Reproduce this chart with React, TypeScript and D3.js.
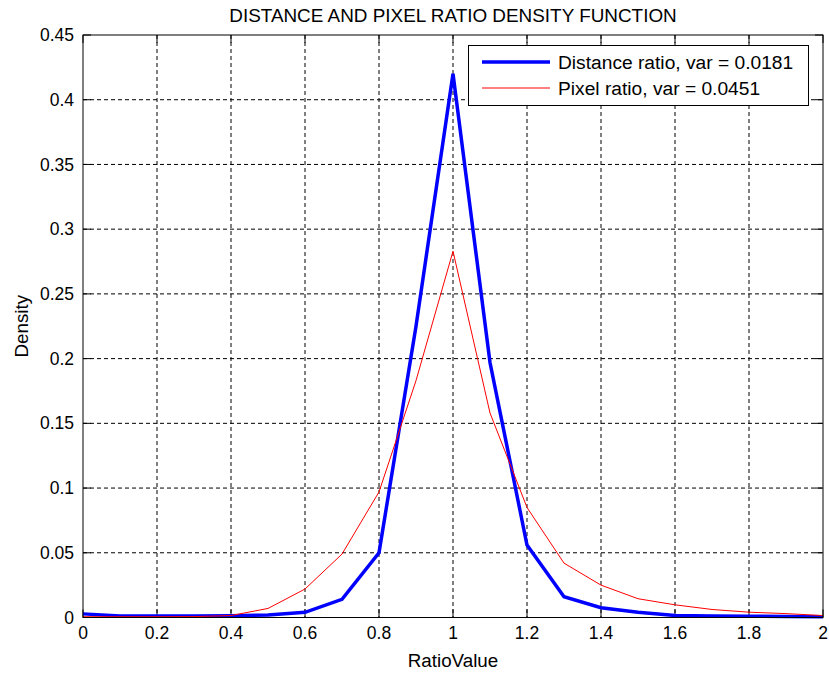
import React from "react";
import * as d3 from "d3";

const xValues = [0, 0.1, 0.2, 0.3, 0.4, 0.5, 0.6, 0.7, 0.8, 0.9, 1.0, 1.1, 1.2, 1.3, 1.4, 1.5, 1.6, 1.7, 1.8, 1.9, 2.0];
const distanceRatio = [0.0028, 0.0012, 0.0012, 0.0012, 0.0013, 0.002, 0.004, 0.014, 0.05, 0.225, 0.42, 0.197, 0.056, 0.016, 0.0075, 0.004, 0.0016, 0.0012, 0.001, 0.0008, 0.0006];
const pixelRatio = [0.0006, 0.0006, 0.0006, 0.0007, 0.0015, 0.007, 0.022, 0.049, 0.097, 0.183, 0.283, 0.158, 0.085, 0.042, 0.025, 0.0145, 0.0098, 0.0062, 0.0041, 0.003, 0.0015];
const xTicks = [0, 0.2, 0.4, 0.6, 0.8, 1, 1.2, 1.4, 1.6, 1.8, 2];
const yTicks = [0, 0.05, 0.1, 0.15, 0.2, 0.25, 0.3, 0.35, 0.4, 0.45];
const seriesNames = ["Distance ratio, var = 0.0181", "Pixel ratio, var = 0.0451"];
const title = "DISTANCE AND PIXEL RATIO DENSITY FUNCTION";
const xLabel = "RatioValue";
const yLabel = "Density";

const W = 829, H = 674;
const left = 83, right = 823, top = 35, bottom = 617.5;
const font = "'Liberation Sans', Arial, sans-serif";

export default function App() {
  const x = d3.scaleLinear().domain([0, 2]).range([left, right]);
  const y = d3.scaleLinear().domain([0, 0.45]).range([bottom, top]);
  const line = (vals: number[]) =>
    d3.line<number>().x((_, i) => x(xValues[i])).y((d) => y(d))(vals) || "";
  const tl = 8;
  return (
    <svg width={W} height={H} style={{ position: "absolute", left: 0, top: 0, background: "#fff" }}>
      <rect x={0} y={0} width={W} height={H} fill="#fff" />
      {/* grid */}
      {xTicks.slice(1, -1).map((t) => (
        <line key={"gx" + t} x1={x(t)} x2={x(t)} y1={top} y2={bottom} stroke="#000" strokeWidth={1} strokeDasharray="4,3" />
      ))}
      {yTicks.slice(1, -1).map((t) => (
        <line key={"gy" + t} x1={left} x2={right} y1={y(t)} y2={y(t)} stroke="#000" strokeWidth={1} strokeDasharray="4,3" />
      ))}
      {/* ticks */}
      {xTicks.map((t) => (
        <g key={"tx" + t}>
          <line x1={x(t)} x2={x(t)} y1={bottom} y2={bottom - tl} stroke="#000" />
          <line x1={x(t)} x2={x(t)} y1={top} y2={top + tl} stroke="#000" />
          <text x={x(t)} y={639} textAnchor="middle" fontFamily={font} fontSize={17.5} fill="#000">
            {d3.format("~g")(t)}
          </text>
        </g>
      ))}
      {yTicks.map((t) => (
        <g key={"ty" + t}>
          <line x1={left} x2={left + tl} y1={y(t)} y2={y(t)} stroke="#000" />
          <line x1={right} x2={right - tl} y1={y(t)} y2={y(t)} stroke="#000" />
          <text x={74} y={y(t)} dy="0.35em" textAnchor="end" fontFamily={font} fontSize={17.5} fill="#000">
            {d3.format("~g")(t)}
          </text>
        </g>
      ))}
      {/* lines */}
      <path d={line(distanceRatio)} fill="none" stroke="#0000ff" strokeWidth={3.5} strokeLinejoin="miter" />
      <path d={line(pixelRatio)} fill="none" stroke="#ff0000" strokeWidth={1} />
      {/* frame */}
      <rect x={left} y={top} width={right - left} height={bottom - top} fill="none" stroke="#000" strokeWidth={1} />
      {/* legend */}
      <rect x={468.5} y={45.5} width={340} height={60} fill="#fff" stroke="#000" strokeWidth={1} />
      <line x1={482} x2={550} y1={62} y2={62} stroke="#0000ff" strokeWidth={3.5} />
      <line x1={482} x2={550} y1={88} y2={88} stroke="#ff0000" strokeWidth={1} />
      <text x={558} y={62} dy="0.35em" fontFamily={font} fontSize={19.2} fill="#000">{seriesNames[0]}</text>
      <text x={558} y={88} dy="0.35em" fontFamily={font} fontSize={19.2} fill="#000">{seriesNames[1]}</text>
      {/* titles */}
      <text x={(left + right) / 2} y={21.7} textAnchor="middle" fontFamily={font} fontSize={18.9} fill="#000">{title}</text>
      <text x={(left + right) / 2} y={667} textAnchor="middle" fontFamily={font} fontSize={18.8} fill="#000">{xLabel}</text>
      <text transform={`translate(28,${(top + bottom) / 2}) rotate(-90)`} textAnchor="middle" fontFamily={font} fontSize={18.8} fill="#000">{yLabel}</text>
    </svg>
  );
}
